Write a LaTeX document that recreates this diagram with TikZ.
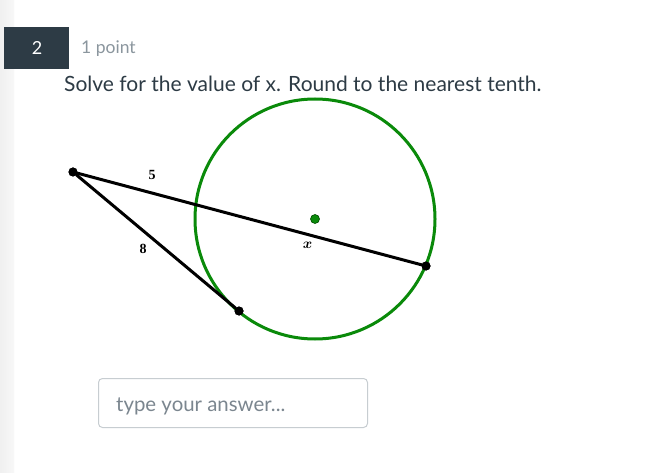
\documentclass[tikz,border=0pt]{standalone}
\usepackage{fontspec}
\setmainfont{Lato}
\newfontfamily\geofont{Liberation Serif}
\definecolor{canvasdark}{HTML}{2D3B45}
\definecolor{pointgray}{HTML}{8B969E}
\definecolor{inputgray}{HTML}{7B868F}
\definecolor{boxborder}{HTML}{C7CDD1}
\definecolor{geogreen}{HTML}{0A8A0A}
\definecolor{dotgreen}{HTML}{0B8A0B}
\tikzset{
  seg/.style={line width=3pt, black, line cap=round},
  blackdot/.style={circle, fill=black, inner sep=0pt, minimum size=9pt},
  greendot/.style={circle, fill=dotgreen, draw=green!30!black, line width=0.6pt, inner sep=0pt, minimum size=9pt},
  lbl/.style={font=\geofont\fontsize{14}{14}\selectfont\bfseries, inner sep=0pt},
}
\begin{document}
\begin{tikzpicture}[x=1pt,y=-1pt]
\useasboundingbox (0,0) rectangle (645,473);
\fill[white] (0,0) rectangle (645,473);
\shade[left color=black!6, right color=black!3] (0,0) rectangle (14,473);
% question number box
\fill[canvasdark] (4,27) rectangle (69,69);
\node[text=white, font=\fontsize{18}{18}\selectfont, inner sep=0pt] (num) at (37,48) {2};
\node[anchor=base west, text=pointgray, font=\fontsize{17.5}{18}\selectfont, inner sep=0pt] (pts) at (81,54) {1 point};
\node[anchor=base west, text=canvasdark, font=\fontsize{21}{22}\selectfont, inner sep=0pt] (q) at (64,92) {Solve for the value of x. Round to the nearest tenth.};
% geometry
\coordinate (O) at (315,219);
\draw[geogreen, line width=3pt] (O) circle[radius=120];
\node[blackdot] (A) at (73,172) {};
\node[blackdot] (B) at (426,266) {};
\node[blackdot] (T) at (239,311) {};
\draw[seg] (A) -- (B);
\draw[seg] (A) -- (T);
\node[blackdot] at (A) {};
\node[blackdot] at (B) {};
\node[blackdot] at (T) {};
\node[greendot] (C) at (O) {};
\node[lbl] (l5) at (152,175) {5};
\node[lbl] (l8) at (143,248.5) {8};
\node[font=\fontsize{15.5}{15.5}\selectfont\boldmath, inner sep=0pt] (lx) at (307.5,245) {$x$};
% answer box
\draw[boxborder, line width=1pt, rounded corners=4pt] (98.5,378.5) rectangle (367.5,427.5);
\node[anchor=base west, text=inputgray, font=\fontsize{20.4}{21}\selectfont, inner sep=0pt] (ans) at (116,411) {type your answer...};
\end{tikzpicture}
\end{document}
